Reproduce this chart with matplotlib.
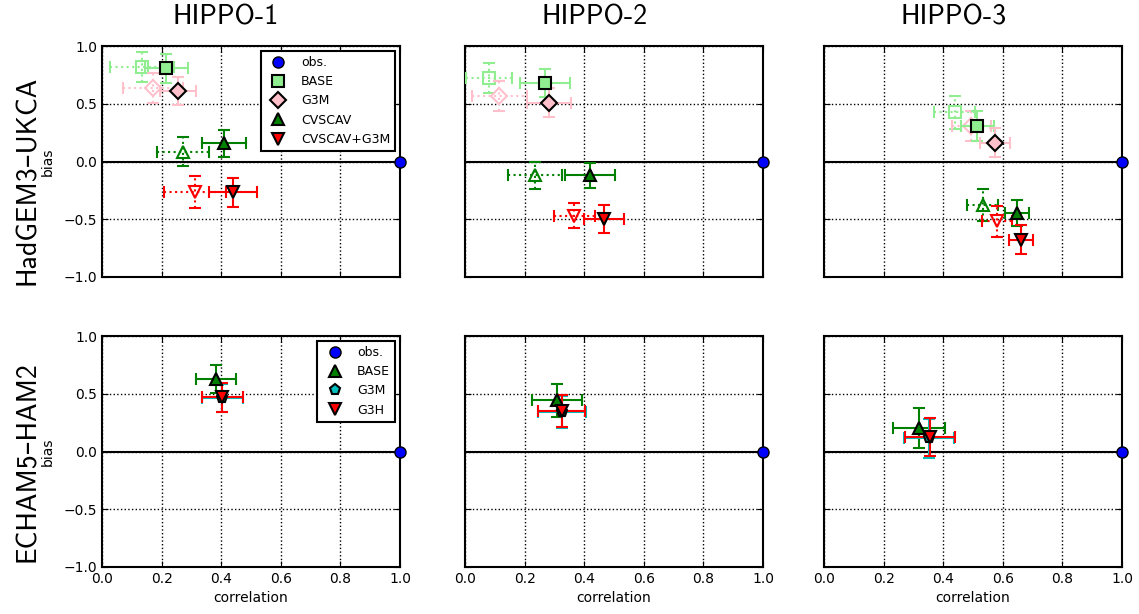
import numpy as np
import matplotlib
matplotlib.use("Agg")
from matplotlib import pyplot as plt

campaigns = ["HIPPO-1", "HIPPO-2", "HIPPO-3"]

# HadGEM3-UKCA experiments (filled markers, solid error bars)
ukca_names = ["BASE", "G3M", "CVSCAV", "CVSCAV+G3M"]
ukca_corr = [[0.216, 0.255, 0.409, 0.440],
             [0.269, 0.283, 0.420, 0.468],
             [0.515, 0.574, 0.647, 0.661]]
ukca_bias = [[0.806, 0.613, 0.158, -0.265],
             [0.682, 0.509, -0.121, -0.498],
             [0.311, 0.164, -0.446, -0.676]]
ukca_corr_err = [[0.072, 0.062, 0.075, 0.080],
                 [0.083, 0.074, 0.084, 0.067],
                 [0.055, 0.050, 0.041, 0.040]]
ukca_bias_err = [[0.125, 0.120, 0.118, 0.125],
                 [0.120, 0.127, 0.105, 0.120],
                 [0.130, 0.122, 0.110, 0.122]]

# same experiments, second set (open markers, dotted error bars)
ukca2_corr = [[0.134, 0.171, 0.272, 0.312],
              [0.081, 0.115, 0.235, 0.367],
              [0.438, 0.494, 0.533, 0.580]]
ukca2_bias = [[0.820, 0.633, 0.086, -0.265],
              [0.720, 0.567, -0.121, -0.469],
              [0.426, 0.311, -0.374, -0.518]]
ukca2_corr_err = [[0.106, 0.100, 0.087, 0.105],
                  [0.078, 0.093, 0.090, 0.070],
                  [0.068, 0.065, 0.052, 0.050]]
ukca2_bias_err = [[0.130, 0.130, 0.125, 0.137],
                  [0.130, 0.130, 0.120, 0.108],
                  [0.145, 0.130, 0.140, 0.137]]

# ECHAM5-HAM2 experiments
echam_names = ["BASE", "G3M", "G3H"]
echam_corr = [[0.382, 0.404, 0.404],
              [0.308, 0.325, 0.325],
              [0.318, 0.353, 0.356]]
echam_bias = [[0.628, 0.461, 0.470],
              [0.444, 0.341, 0.350],
              [0.206, 0.115, 0.126]]
echam_corr_err = [[0.066, 0.068, 0.068],
                  [0.083, 0.080, 0.079],
                  [0.087, 0.083, 0.085]]
echam_bias_err = [[0.123, 0.120, 0.125],
                  [0.143, 0.137, 0.137],
                  [0.172, 0.170, 0.167]]

obs_corr = 1.0
obs_bias = 0.0

ukca_colors = ["lightgreen", "pink", "g", "r"]
ukca_markers = ["s", "D", "^", "v"]
echam_colors = ["g", "c", "r"]
echam_markers = ["^", "p", "v"]

plt.rcParams["font.family"] = "DejaVu Sans"
plt.rcParams["font.size"] = 10
plt.rcParams["xtick.direction"] = "in"
plt.rcParams["ytick.direction"] = "in"
plt.rcParams["xtick.top"] = True
plt.rcParams["ytick.right"] = True
plt.rcParams["xtick.major.size"] = 4
plt.rcParams["ytick.major.size"] = 4
plt.rcParams["axes.linewidth"] = 1.5
plt.rcParams["axes.unicode_minus"] = True

W, H = 1139, 614
fig = plt.figure(figsize=(W / 100, H / 100), dpi=100)

lefts = [102, 465, 824]
tops = [46, 336]
aw, ah = 298, 231


def setup(ax, row, col):
    ax.set_xlim(0, 1)
    ax.set_ylim(-1, 1)
    ax.set_xticks(np.arange(0, 1.01, 0.2))
    ax.set_yticks(np.arange(-1, 1.01, 0.5))
    ax.grid(True, color="k", linestyle=":", linewidth=1)
    ax.axhline(0, color="k", linewidth=1.5, zorder=1.5)
    if col == 0:
        ax.set_ylabel("bias", fontsize=10, labelpad=6)
    else:
        ax.set_yticklabels([])
    if row == 1:
        ax.set_xlabel("correlation", fontsize=10)
    else:
        ax.set_xticklabels([])


def obs(ax):
    ax.plot(obs_corr, obs_bias, "o", color="b", mec="k", ms=8, clip_on=False,
            zorder=5, label="obs.")


axes = []
for row in range(2):
    for col in range(3):
        ax = fig.add_axes([lefts[col] / W, 1 - (tops[row] + ah) / H, aw / W, ah / H])
        setup(ax, row, col)
        axes.append(ax)

# HadGEM3-UKCA row
for col in range(3):
    ax = axes[col]
    for i in range(len(ukca_names)):
        eb = ax.errorbar(ukca2_corr[col][i], ukca2_bias[col][i],
                         xerr=ukca2_corr_err[col][i], yerr=ukca2_bias_err[col][i],
                         fmt="none", ecolor=ukca_colors[i], elinewidth=1.5,
                         capsize=4, capthick=1.5, zorder=3)
        eb[2][0].set_linestyle(":")
        eb[2][1].set_linestyle(":")
        ax.plot(ukca2_corr[col][i], ukca2_bias[col][i], ukca_markers[i],
                mfc="none", mec=ukca_colors[i], mew=1.5, ms=8, zorder=3)
    for i in range(len(ukca_names)):
        ax.errorbar(ukca_corr[col][i], ukca_bias[col][i],
                    xerr=ukca_corr_err[col][i], yerr=ukca_bias_err[col][i],
                    fmt="none", ecolor=ukca_colors[i], elinewidth=1.5,
                    capsize=4, capthick=1.5, zorder=4)
    obs(ax)
    for i in range(len(ukca_names)):
        ax.plot(ukca_corr[col][i], ukca_bias[col][i], ukca_markers[i],
                color=ukca_colors[i], mec="k", mew=1.5, ms=8, zorder=4,
                label=ukca_names[i])
    if col == 0:
        ax.legend(loc="upper right", numpoints=1, fontsize=9, fancybox=False,
                  framealpha=1, edgecolor="k", borderaxespad=0.4)

# ECHAM5-HAM2 row
for col in range(3):
    ax = axes[3 + col]
    obs(ax)
    for i in range(len(echam_names)):
        ax.errorbar(echam_corr[col][i], echam_bias[col][i],
                    xerr=echam_corr_err[col][i], yerr=echam_bias_err[col][i],
                    fmt=echam_markers[i], color=echam_colors[i], mec="k",
                    mew=1.5, ms=8, elinewidth=1.5, capsize=4, capthick=1.5,
                    zorder=4)
        ax.plot([], [], echam_markers[i], color=echam_colors[i], mec="k",
                mew=1.5, ms=8, label=echam_names[i])
    if col == 0:
        ax.legend(loc="upper right", numpoints=1, fontsize=9, fancybox=False,
                  framealpha=1, edgecolor="k", borderaxespad=0.4)

for lf in axes[0].get_legend(), axes[3].get_legend():
    lf.get_frame().set_linewidth(1.5)

big = ["cmss10", "DejaVu Sans"]
for x, name in zip([226, 595, 954], campaigns):
    fig.text(x / W, 1 - 17 / H, name, ha="center", va="center", fontsize=20,
             family=big)
fig.text(28 / W, 1 - 180 / H, "HadGEM3\u2013UKCA", rotation=90, ha="center",
         va="center", fontsize=20, family=big)
fig.text(28 / W, 1 - 462 / H, "ECHAM5\u2013HAM2", rotation=90, ha="center",
         va="center", fontsize=20, family=big)

fig.savefig("out.png", dpi=100)
